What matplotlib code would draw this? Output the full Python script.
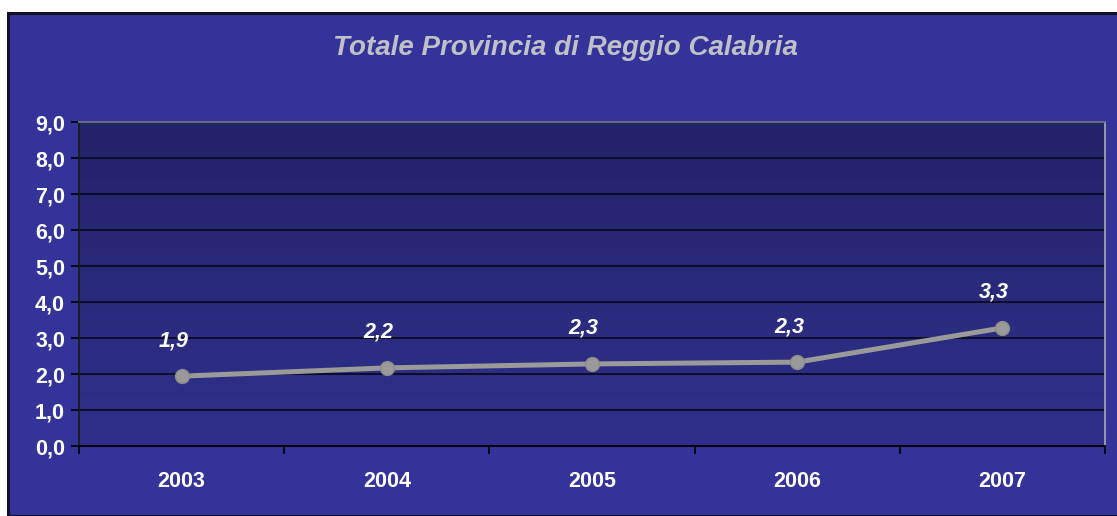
import numpy as np
import matplotlib
matplotlib.use("Agg")
import matplotlib.pyplot as plt
from matplotlib.patches import Rectangle

years = ["2003", "2004", "2005", "2006", "2007"]
values = [1.94, 2.17, 2.28, 2.33, 3.28]
labels = ["1,9", "2,2", "2,3", "2,3", "3,3"]
yticks = [0, 1, 2, 3, 4, 5, 6, 7, 8, 9]
title = "Totale Provincia di Reggio Calabria"

W, H = 1117, 516
fig = plt.figure(figsize=(W / 100, H / 100), dpi=100)
fig.patch.set_facecolor("white")

# outer chart area
outer = Rectangle((8 / W, 0), 1.2, (H - 13) / H, transform=fig.transFigure,
                  facecolor="#333399", edgecolor="#111122", linewidth=2.2, zorder=-10)
fig.patches.append(outer)

ax = fig.add_axes([79 / W, 1 - 446 / H, (1105 - 79) / W, (446 - 122) / H])
ax.set_zorder(5)
ax.set_facecolor("none")
x = np.arange(len(years))

# gradient plot background (darker at top)
grad = np.linspace(0, 1, 256).reshape(-1, 1)
top = np.array([0x23, 0x23, 0x6a]) / 255
bot = np.array([0x30, 0x30, 0x8c]) / 255
img = top[None, None, :] * (1 - grad[:, :, None]) + bot[None, None, :] * grad[:, :, None]
ax.imshow(img, extent=[-0.5, len(years) - 0.5, 0, 9], aspect="auto", zorder=0,
          origin="upper")
ax.set_xlim(-0.5, len(years) - 0.5)
ax.set_ylim(0, 9)

ax.set_yticks(yticks)
ax.set_yticklabels([f"{v},0" for v in yticks])
ax.yaxis.grid(True, color="#0a0a1e", linewidth=1.3, zorder=1)
ax.set_axisbelow(True)

ax.set_xticks(x)
ax.set_xticklabels(years)
ax.set_xticks(np.arange(-0.5, len(years)), minor=True)
ax.tick_params(axis="x", which="major", length=0, pad=18, labelsize=15.5,
               labelcolor="white")
ax.tick_params(axis="x", which="minor", length=6, color="black", width=1.2)
ax.tick_params(axis="y", length=6, color="black", width=1.2, labelsize=15.5,
               labelcolor="white", pad=4)
for lab in ax.get_xticklabels() + ax.get_yticklabels():
    lab.set_fontweight("bold")
    lab.set_family("Liberation Sans")

ax.spines["top"].set_color("#707080")
ax.spines["right"].set_color("#a0a0b0")
ax.spines["left"].set_color("#1a1a1a")
ax.spines["bottom"].set_color("black")
for s in ax.spines.values():
    s.set_linewidth(1.3)

ax.plot(x, values, color="#9a9a9a", linewidth=3.6, marker="o", markersize=10,
        markeredgecolor="#8c8c8c", markerfacecolor="#9a9a9a", zorder=3,
        solid_capstyle="round")

for xi, v, t in zip(x, values, labels):
    ax.annotate(t, (xi, v), xytext=(-6, 18), textcoords="offset points",
                ha="center", va="bottom", color="white", fontsize=15.5,
                fontweight="bold", fontstyle="italic", family="Liberation Sans")

fig.text(565 / W, 1 - 48 / H, title, ha="center", va="center",
         color="#c0c0c8", fontsize=20, fontweight="bold", fontstyle="italic",
         family="Liberation Sans")

fig.savefig("out.png", dpi=100)
